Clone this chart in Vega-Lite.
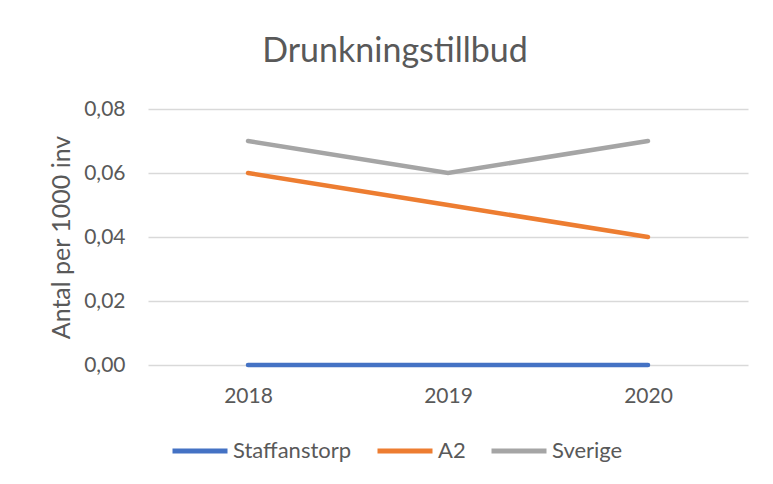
{
  "$schema": "https://vega.github.io/schema/vega-lite/v6.json",
  "width": 600,
  "height": 256,
  "autosize": "none",
  "padding": {"left": 148, "top": 109, "right": 25, "bottom": 119},
  "background": "white",
  "title": {
    "text": "Drunkningstillbud",
    "fontSize": 34,
    "font": "Lato",
    "fontWeight": "normal",
    "color": "#595959",
    "anchor": "middle",
    "dx": -53,
    "offset": 29
  },
  "data": {
    "values": [
      {"year": "2018", "serie": "Staffanstorp", "value": 0},
      {"year": "2019", "serie": "Staffanstorp", "value": 0},
      {"year": "2020", "serie": "Staffanstorp", "value": 0},
      {"year": "2018", "serie": "A2", "value": 0.06},
      {"year": "2019", "serie": "A2", "value": 0.05},
      {"year": "2020", "serie": "A2", "value": 0.04},
      {"year": "2018", "serie": "Sverige", "value": 0.07},
      {"year": "2019", "serie": "Sverige", "value": 0.06},
      {"year": "2020", "serie": "Sverige", "value": 0.07}
    ]
  },
  "mark": {"type": "line", "strokeWidth": 4.5, "strokeCap": "round"},
  "encoding": {
    "x": {
      "field": "year",
      "type": "ordinal",
      "scale": {"type": "point", "padding": 0.5},
      "axis": {
        "title": null,
        "labelAngle": 0,
        "ticks": false,
        "domain": false,
        "grid": false,
        "labelPadding": 20,
        "labelFontSize": 21,
        "labelFont": "Lato",
        "labelColor": "#595959"
      }
    },
    "y": {
      "field": "value",
      "type": "quantitative",
      "scale": {"domain": [0, 0.08], "nice": false, "zero": true},
      "axis": {
        "values": [0, 0.02, 0.04, 0.06, 0.08],
        "labelExpr": "replace(format(datum.value, '.2f'), '.', ',')",
        "title": "Antal per 1000 inv",
        "titleFont": "Lato",
        "titleFontSize": 25,
        "titleFontWeight": "normal",
        "titleColor": "#595959",
        "titlePadding": 9,
        "ticks": false,
        "domain": false,
        "grid": true,
        "gridColor": "#D9D9D9",
        "gridWidth": 1.3,
        "labelPadding": 23,
        "labelFontSize": 21,
        "labelFont": "Lato",
        "labelColor": "#595959"
      }
    },
    "color": {
      "field": "serie",
      "type": "nominal",
      "sort": ["Staffanstorp", "A2", "Sverige"],
      "scale": {
        "domain": ["Staffanstorp", "A2", "Sverige"],
        "range": ["#4472C4", "#ED7D31", "#A5A5A5"]
      },
      "legend": {
        "title": null,
        "orient": "none",
        "direction": "horizontal",
        "legendX": 22,
        "legendY": 312,
        "symbolType": "stroke",
        "symbolSize": 3025,
        "symbolStrokeWidth": 5,
        "labelFont": "Lato",
        "labelFontSize": 22,
        "labelColor": "#595959",
        "labelOffset": 3,
        "columnPadding": 15
      }
    }
  },
  "config": {
    "view": {"stroke": null}
  }
}
